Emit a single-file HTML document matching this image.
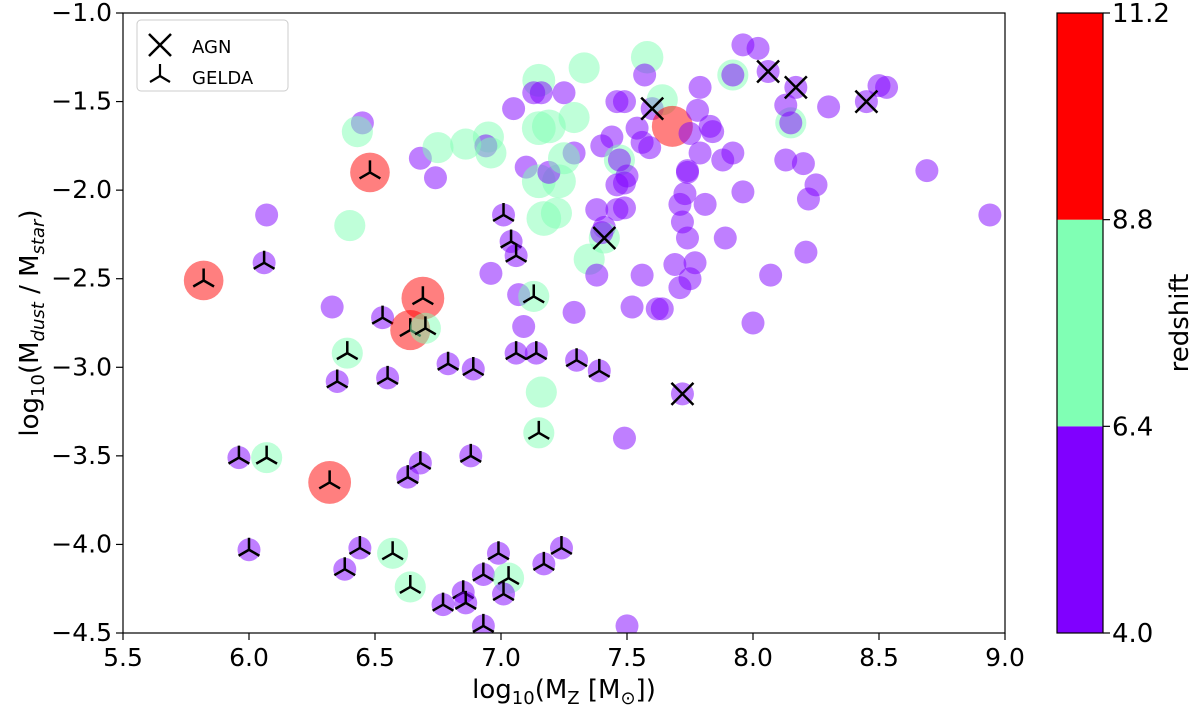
<!DOCTYPE html>
<html><head><meta charset="utf-8"><style>
body{margin:0;background:#fff}
svg text{font-family:"DejaVu Sans","Liberation Sans",sans-serif;fill:#000}
</style></head><body>
<svg id="chart" width="1200" height="714" viewBox="0 0 1200 714" xmlns="http://www.w3.org/2000/svg">
<defs><clipPath id="clip"><rect x="123" y="13" width="882" height="620"/></clipPath></defs>
<g id="marks" clip-path="url(#clip)"></g>
<g id="axes"></g>
</svg>
<script>
// Plain circles: x = log10(MZ), y = log10(Mdust/Mstar), z = redshift
const circX=[7.58,7.33,7.15,7.96,8.02,8.06,8.17,8.45,8.50,8.53,7.92,7.92,7.79,7.57,7.46,7.49,7.60,7.64,7.68,7.78,7.83,7.84,7.75,7.54,7.56,7.59,7.44,7.40,7.25,7.16,7.13,7.05,7.29,7.15,7.19,6.95,6.94,6.96,7.10,7.15,7.23,7.19,7.29,7.25,7.47,7.47,7.50,7.49,7.46,7.79,7.88,7.92,7.74,7.74,8.13,8.20,8.15,8.15,8.13,8.30,8.25,8.22,7.96,7.73,7.71,7.72,7.74,7.81,7.89,8.21,8.07,8.00,7.69,7.77,7.75,7.71,7.56,7.52,7.62,7.64,7.38,7.41,7.49,7.46,7.41,7.40,7.35,7.38,7.17,7.22,6.96,7.07,7.29,7.09,6.45,6.43,6.68,6.74,6.75,6.86,6.07,6.40,6.33,7.49,7.50,8.69,8.94,7.72,7.16];
const circY=[-1.25,-1.31,-1.38,-1.18,-1.20,-1.33,-1.42,-1.50,-1.41,-1.42,-1.35,-1.35,-1.42,-1.35,-1.50,-1.50,-1.54,-1.49,-1.64,-1.55,-1.64,-1.67,-1.68,-1.65,-1.73,-1.76,-1.70,-1.75,-1.45,-1.45,-1.45,-1.54,-1.59,-1.65,-1.64,-1.70,-1.75,-1.79,-1.87,-1.95,-1.95,-1.90,-1.79,-1.82,-1.83,-1.83,-1.92,-1.96,-1.97,-1.79,-1.83,-1.79,-1.89,-1.90,-1.83,-1.85,-1.62,-1.62,-1.52,-1.53,-1.97,-2.05,-2.01,-2.02,-2.08,-2.18,-2.27,-2.08,-2.27,-2.35,-2.48,-2.75,-2.42,-2.41,-2.50,-2.55,-2.48,-2.66,-2.67,-2.67,-2.11,-2.21,-2.10,-2.11,-2.27,-2.24,-2.39,-2.48,-2.16,-2.13,-2.47,-2.59,-2.69,-2.77,-1.62,-1.67,-1.82,-1.93,-1.76,-1.74,-2.14,-2.20,-2.66,-3.40,-4.46,-1.89,-2.14,-3.15,-3.14];
const circZ=[7.3,7,7.4,5,5,5,5,5,5,5,7,5,5,5,5,5,5,7,9.2,5,5,5,5,5,5,5,5,5,5,5,5,5,7,7.6,7.6,7,5,7,5,7.6,7.6,5,5,7.2,7,5,5,5,5,5,5,5,5,5,5,5,7,5,5,5,5,5,5,5,5,5,5,5,5,5,5,5,5,5,5,5,5,5,5,5,5,5,5,5,7,5,7,5,7.8,7,5,5,5,5,5,7,5,5,7,7,5,7,5,5,5,5,5,5,7];
// GELDA (tri markers)
const geldaX=[5.82,5.96,6.07,6.06,6.00,6.38,6.44,6.57,6.64,6.35,6.39,6.55,6.53,6.69,6.64,6.70,6.79,6.89,7.06,7.14,7.15,7.30,7.39,6.32,6.68,6.63,6.88,6.77,6.85,6.86,6.93,6.99,6.93,7.03,7.01,7.17,7.24,6.48,7.01,7.04,7.06,7.13];
const geldaY=[-2.51,-3.51,-3.51,-2.41,-4.03,-4.14,-4.02,-4.05,-4.24,-3.08,-2.92,-3.06,-2.72,-2.61,-2.79,-2.78,-2.98,-3.01,-2.92,-2.92,-3.37,-2.96,-3.02,-3.65,-3.54,-3.62,-3.50,-4.34,-4.27,-4.33,-4.46,-4.05,-4.17,-4.19,-4.28,-4.11,-4.02,-1.90,-2.14,-2.29,-2.37,-2.60];
const geldaZ=[8.9,5,7,5,5,5,5,7,7,5,7,5,5,9.6,9.0,7,5,5,5,5,7,5,5,9.6,5,5,5,5,5,5,5,5,5,7,5,5,5,8.9,5,5,5,7];
// AGN (x markers)
const agnX=[8.06,8.17,8.45,7.60,7.41,7.72];
const agnY=[-1.33,-1.42,-1.50,-1.54,-2.27,-3.15];
// axis ticks
const xTicks=[5.5,6.0,6.5,7.0,7.5,8.0,8.5,9.0];
const yTicks=[-1.0,-1.5,-2.0,-2.5,-3.0,-3.5,-4.0,-4.5];
const cbTicks=[4.0,6.4,8.8,11.2];

const L=123,R=1005,T=13,B=633;
const sx=v=>L+(v-5.5)/3.5*(R-L);
const sy=v=>T+(-1-v)/3.5*(B-T);
const zcol=z=>z<6.4?'rgba(128,0,255,0.5)':(z<8.8?'rgba(128,255,180,0.5)':'rgba(255,0,0,0.5)');
const rad=z=>Math.max(11.5,2.25*z-0.2);
const NS='http://www.w3.org/2000/svg';
const marks=document.getElementById('marks'),axes=document.getElementById('axes');
function mk(tag,at,parent){const e=document.createElementNS(NS,tag);for(const k in at)e.setAttribute(k,at[k]);parent.appendChild(e);return e;}
function circle(x,y,z,name){const c=mk('circle',{cx:sx(x),cy:sy(y),r:rad(z),fill:zcol(z)},marks);

}
function tri(cx,cy,a,parent){const g=mk('g',{stroke:'#000','stroke-width':2.5,fill:'none'},parent);
mk('path',{d:`M${cx},${cy}L${cx},${cy-a}M${cx},${cy}L${cx-a*0.866},${cy+a*0.5}M${cx},${cy}L${cx+a*0.866},${cy+a*0.5}`},g);return g;}
function xm(cx,cy,a,parent){const g=mk('g',{stroke:'#000','stroke-width':2.5},parent);
mk('path',{d:`M${cx-a},${cy-a}L${cx+a},${cy+a}M${cx-a},${cy+a}L${cx+a},${cy-a}`},g);return g;}
circX.forEach((x,i)=>circle(x,circY[i],circZ[i],'galaxy-point'));
geldaX.forEach((x,i)=>{circle(x,geldaY[i],geldaZ[i],'gelda-point');
const g=tri(sx(x),sy(geldaY[i]),12,marks);

});
agnX.forEach((x,i)=>{const g=xm(sx(x),sy(agnY[i]),11,marks);

});
// frame
const fr=mk('rect',{x:L,y:T,width:R-L,height:B-T,fill:'none',stroke:'#000','stroke-width':1.2},axes);


xTicks.forEach(v=>{mk('line',{x1:sx(v),x2:sx(v),y1:B,y2:B+7,stroke:'#000','stroke-width':1.2},axes);
const t=mk('text',{x:sx(v),y:B+33,'text-anchor':'middle','font-size':25},axes);t.textContent=v.toFixed(1);

});
yTicks.forEach(v=>{mk('line',{x1:L-7,x2:L,y1:sy(v),y2:sy(v),stroke:'#000','stroke-width':1.2},axes);
const t=mk('text',{x:L-11,y:sy(v)+8,'text-anchor':'end','font-size':25},axes);t.textContent=v.toFixed(1).replace('-','\u2212');

});
// colorbar
const CL=1057,CR=1103,cy=v=>B-(v-4)/7.2*(B-T);
[[4,6.4,'#8000ff'],[6.4,8.8,'#80ffb4'],[8.8,11.2,'#ff0000']].forEach(s=>{const r=mk('rect',{x:CL,y:cy(s[1]),width:CR-CL,height:cy(s[0])-cy(s[1]),fill:s[2]},axes);

});
mk('rect',{x:CL,y:T,width:CR-CL,height:B-T,fill:'none',stroke:'#000','stroke-width':1.2},axes);
cbTicks.forEach(v=>{mk('line',{x1:CR,x2:CR+7,y1:cy(v),y2:cy(v),stroke:'#000','stroke-width':1.2},axes);
const t=mk('text',{x:CR+9,y:cy(v)+9,'font-size':26},axes);t.textContent=v.toFixed(1);

});
</script>
<svg style="position:absolute;left:0;top:0" width="1200" height="714" xmlns="http://www.w3.org/2000/svg">
<g>
<rect x="137" y="20" width="151" height="71" rx="4" fill="#fff" fill-opacity="0.85" stroke="#ccc"/>
<path d="M149,34L171,56M149,56L171,34" stroke="#000" stroke-width="2.5"/>
<text x="192" y="53" font-size="18" font-family="DejaVu Sans,Liberation Sans,sans-serif">AGN</text>
<path d="M160,76L160,64M160,76L150,82M160,76L170,82" stroke="#000" stroke-width="2.2" fill="none"/>
<text x="192" y="84" font-size="18" font-family="DejaVu Sans,Liberation Sans,sans-serif">GELDA</text>
</g>
<text x="564" y="698" text-anchor="middle" font-size="26" font-family="DejaVu Sans,Liberation Sans,sans-serif">log<tspan font-size="18" dy="6">10</tspan><tspan dy="-6">(M</tspan><tspan font-size="18" dy="6">Z</tspan><tspan dy="-6"> [M</tspan><tspan font-size="18" dy="6">⊙</tspan><tspan dy="-6">])</tspan></text>
<text transform="translate(38,323) rotate(-90)" text-anchor="middle" font-size="26" font-family="DejaVu Sans,Liberation Sans,sans-serif">log<tspan font-size="18" dy="6">10</tspan><tspan dy="-6">(M</tspan><tspan font-size="18" dy="6" font-style="italic">dust</tspan><tspan dy="-6"> / M</tspan><tspan font-size="18" dy="6" font-style="italic">star</tspan><tspan dy="-6">)</tspan></text>
<text transform="translate(1188,323) rotate(-90)" text-anchor="middle" font-size="26" font-family="DejaVu Sans,Liberation Sans,sans-serif">redshift</text>
</svg>
</body></html>
